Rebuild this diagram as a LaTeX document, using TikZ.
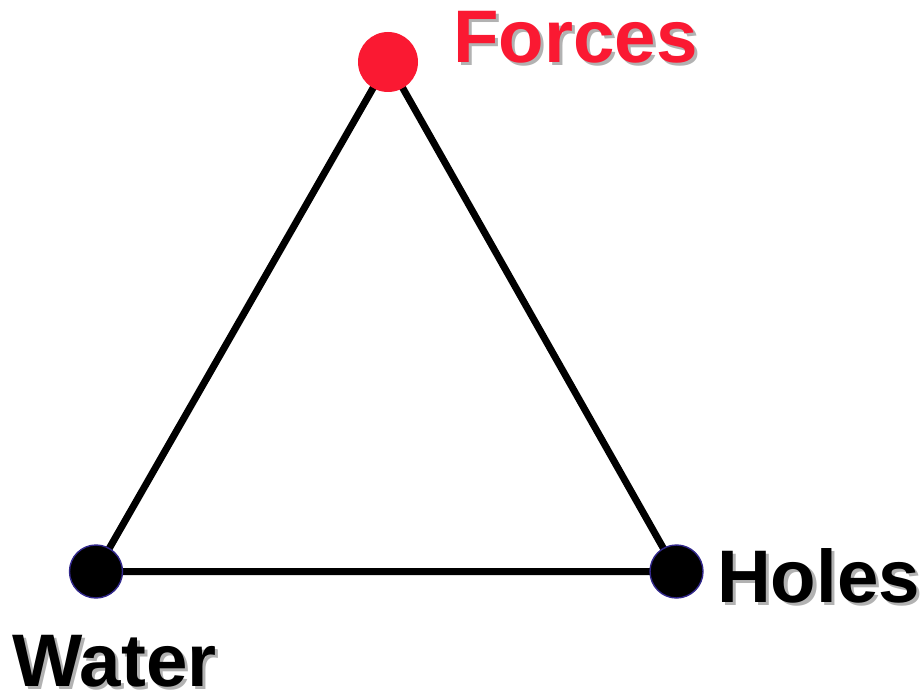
\documentclass[tikz,border=0pt]{standalone}
\usepackage{fontspec}
\setmainfont{Liberation Sans}
\usetikzlibrary{calc}
\definecolor{forcered}{RGB}{250,25,50}
\definecolor{shadowgray}{RGB}{178,178,178}
\definecolor{rimblue}{RGB}{50,40,140}
\tikzset{
  edge/.style={line width=7pt, black},
  blackdot/.style={circle, fill=black, draw=rimblue, line width=1.4pt, minimum size=53pt, inner sep=0pt},
  reddot/.style={circle, fill=forcered, minimum size=60pt, inner sep=0pt},
  lbl/.style={font=\fontsize{74.5}{74.5}\selectfont\bfseries, inner sep=0pt, anchor=base west},
}
\newcommand{\shadowtext}[4]{%
  \node[lbl, shadowgray] at ($(#1)+(3pt,-3pt)$) {#3};
  \node[lbl, #4] (#2) at (#1) {#3};
}
\begin{document}
\begin{tikzpicture}[x=1pt,y=1pt]
\useasboundingbox (0,0) rectangle (923,694);
\coordinate (pF) at (388,632);
\coordinate (pW) at (96,122.5);
\coordinate (pH) at (676.5,122.5);
\draw[edge] (pF) -- (pW) -- (pH) -- cycle;
\node[reddot] (forces) at (pF) {};
\node[blackdot] (water) at (pW) {};
\node[blackdot] (holes) at (pH) {};
\coordinate (tF) at (453,631);
\coordinate (tH) at (717,92);
\coordinate (tW) at (12,8);
\shadowtext{tF}{forceslbl}{Forces}{forcered}
\shadowtext{tH}{holeslbl}{Holes}{black}
\shadowtext{tW}{waterlbl}{Water}{black}
\end{tikzpicture}
\end{document}
